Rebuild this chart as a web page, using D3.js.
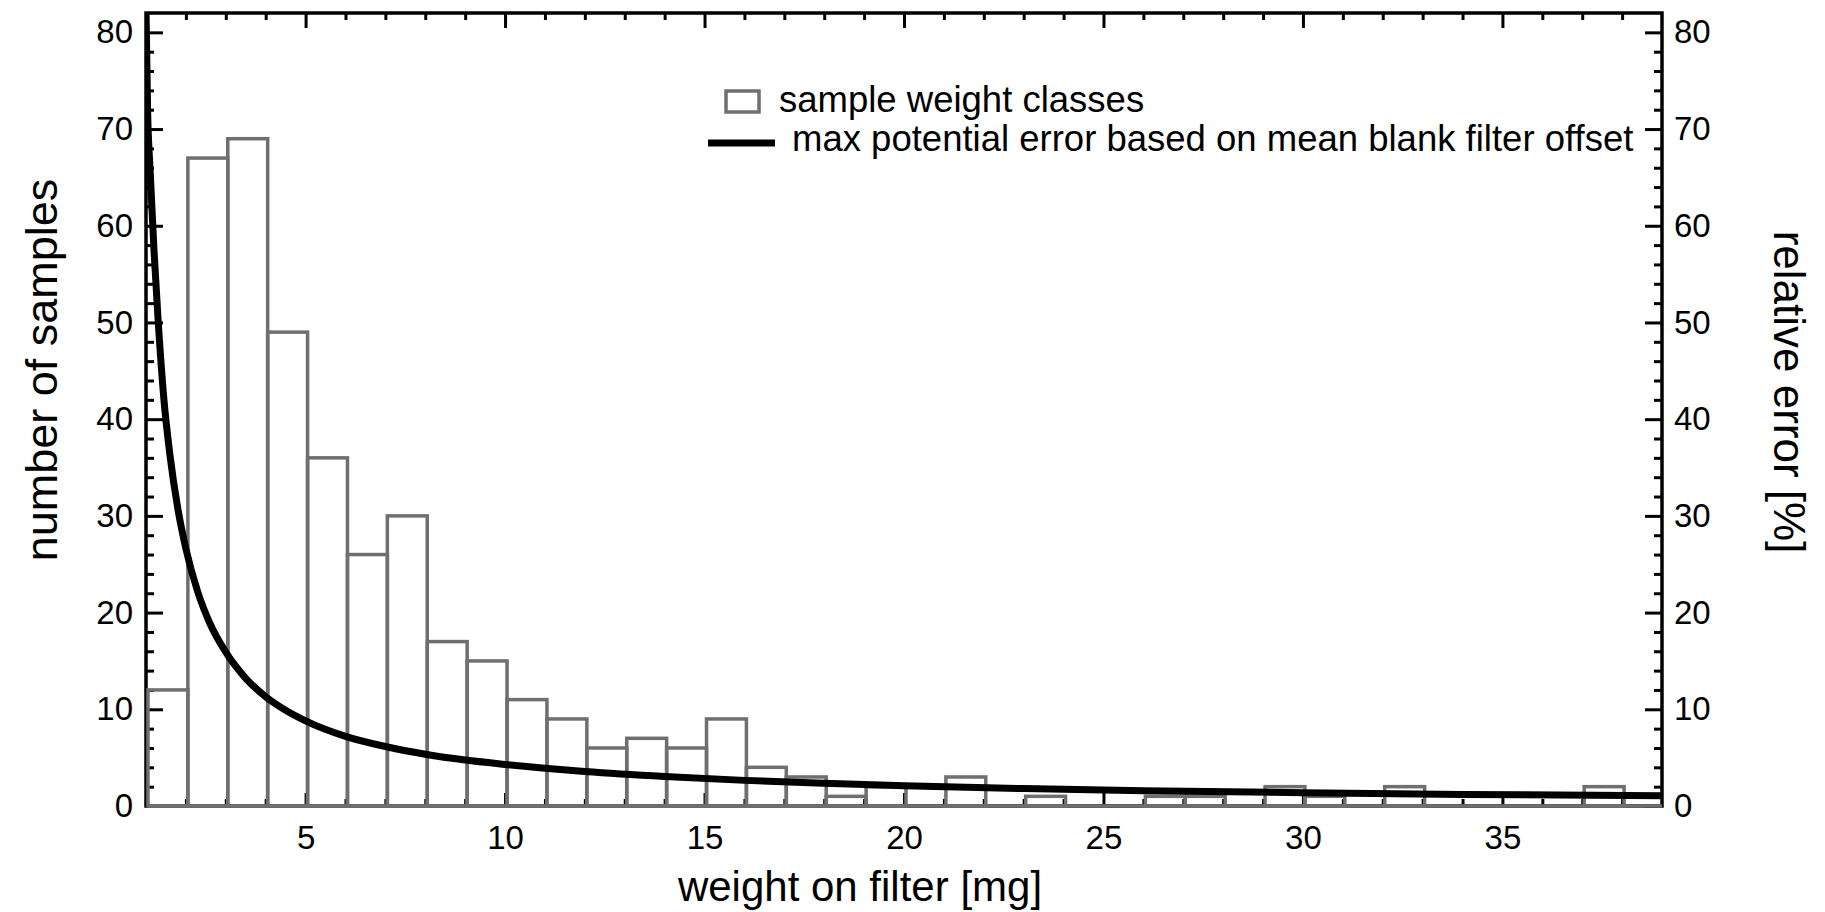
<!DOCTYPE html>
<html>
<head>
<meta charset="utf-8">
<script src="https://cdn.jsdelivr.net/npm/d3@7"></script>
<style>
body{margin:0;background:#fff}
svg{display:block;font-family:"Liberation Sans",Arial,sans-serif}
</style>
</head>
<body>
<svg id="chart" width="1825" height="912"></svg>
<script>
// weight classes: lower edge [mg] and number of samples in each
var binLo=[1.05,2.05,3.05,4.05,5.05,6.05,7.05,8.05,9.05,10.05,11.05,12.05,13.05,14.05,15.05,16.05,17.05,18.05,19.05,
    20.05,21.05,22.05,23.05,24.05,25.05,26.05,27.05,28.05,29.05,30.05,31.05,32.05,33.05,34.05,35.05,36.05,37.05,38.05]
var counts=[12,67,69,49,36,26,30,17,15,11,9,6,7,6,9,4,3,1,2,
    0,3,0,1,0,0,1,1,0,2,1,0,2,0,0,0,0,2,0]

// max potential error curve
var errX=[1.0,1.04,1.1,1.2,1.3,1.45,1.6,1.8,2.0,2.3,2.6,3.0,3.5,4.0,4.5,5.0,6.0,7.0,8.0,9.0,10,11,12,14,16,18,20,23,26,30,34,39]
var errY=[82.5,72,66,57.5,50.5,42,36.3,30.7,26.6,22.1,18.9,15.9,13.2,11.3,9.9,8.8,7.2,6.15,5.35,4.75,4.3,3.9,3.57,3.05,2.65,2.35,2.1,1.8,1.58,1.37,1.2,1.05]

var xTicks=[5,10,15,20,25,30,35]
var yTicks=[0,10,20,30,40,50,60,70,80]

var legendItems=['sample weight classes','max potential error based on mean blank filter offset']
var xTitle='weight on filter [mg]'
var yTitle='number of samples'
var y2Title='relative error [%]'

var conf={width:1825,height:912}
var margin={left:146,right:163,top:13,bottom:106}
var grey='#6f6f6f'

var svg=d3.select('#chart')
var x=d3.scaleLinear().domain([1,39]).range([margin.left,conf.width-margin.right])
var y=d3.scaleLinear().domain([0,82]).range([conf.height-margin.bottom,margin.top])
var y2=d3.scaleLinear().domain([0,82]).range([conf.height-margin.bottom,margin.top])

var xMinor=d3.range(2,39).filter(d=>d%5!=0)
var yMinor=d3.range(2,81,2).filter(d=>d%10!=0)

svg.append('defs').append('clipPath').attr('id','plot-clip')
    .append('rect')
    .attr('x',x.range()[0]).attr('y',y.range()[1])
    .attr('width',x.range()[1]-x.range()[0])
    .attr('height',y.range()[0]-y.range()[1])

var g={
    axes:svg.append('g'),
    bars:svg.append('g'),
    curve:svg.append('g').attr('clip-path','url(#plot-clip)'),
    frame:svg.append('g'),
    legend:svg.append('g'),
    titles:svg.append('g')
}

function styleAxis(sel){
    sel.select('.domain').remove()
    sel.selectAll('.tick line').attr('stroke','#000').attr('stroke-width',3)
    sel.selectAll('.tick text').attr('fill','#000').attr('font-size',33)
}

// bottom
g.axes.append('g').attr('transform',`translate(0,${y.range()[0]})`)
    .call(d3.axisBottom(x).tickValues(xTicks).tickSizeInner(-13).tickSizeOuter(0).tickPadding(20))
    .call(styleAxis)
g.axes.append('g').attr('transform',`translate(0,${y.range()[0]})`)
    .call(d3.axisBottom(x).tickValues(xMinor).tickSizeInner(-7).tickSizeOuter(0).tickFormat(''))
    .call(styleAxis)
// top
g.axes.append('g').attr('transform',`translate(0,${y.range()[1]})`)
    .call(d3.axisTop(x).tickValues(xTicks).tickSizeInner(-15).tickSizeOuter(0).tickFormat(''))
    .call(styleAxis)
g.axes.append('g').attr('transform',`translate(0,${y.range()[1]})`)
    .call(d3.axisTop(x).tickValues(xMinor).tickSizeInner(-7).tickSizeOuter(0).tickFormat(''))
    .call(styleAxis)
// left
g.axes.append('g').attr('transform',`translate(${x.range()[0]},0)`)
    .call(d3.axisLeft(y).tickValues(yTicks).tickSizeInner(-17).tickSizeOuter(0).tickPadding(13))
    .call(styleAxis)
g.axes.append('g').attr('transform',`translate(${x.range()[0]},0)`)
    .call(d3.axisLeft(y).tickValues(yMinor).tickSizeInner(-8).tickSizeOuter(0).tickFormat(''))
    .call(styleAxis)
// right
g.axes.append('g').attr('transform',`translate(${x.range()[1]},0)`)
    .call(d3.axisRight(y2).tickValues(yTicks).tickSizeInner(-17).tickSizeOuter(0).tickPadding(12))
    .call(styleAxis)
g.axes.append('g').attr('transform',`translate(${x.range()[1]},0)`)
    .call(d3.axisRight(y2).tickValues(yMinor).tickSizeInner(-8).tickSizeOuter(0).tickFormat(''))
    .call(styleAxis)

g.frame.append('rect')
    .attr('x',x.range()[0]).attr('y',y.range()[1])
    .attr('width',x.range()[1]-x.range()[0])
    .attr('height',y.range()[0]-y.range()[1])
    .attr('fill','none').attr('stroke','#000').attr('stroke-width',3.5)
g.frame.lower()
g.axes.lower()

// histogram
var xMax=x.domain()[1]
g.bars.selectAll('rect')
    .data(counts)
    .join('rect')
    .attr('x',(d,i)=>x(binLo[i]))
    .attr('width',(d,i)=>x(i<binLo.length-1?binLo[i+1]:xMax)-x(binLo[i]))
    .attr('y',d=>y(d))
    .attr('height',d=>y(0)-y(d))
    .attr('fill','none')
    .attr('stroke',grey)
    .attr('stroke-width',3.5)
g.bars.append('line')
    .attr('x1',x(binLo[0])).attr('x2',x(xMax))
    .attr('y1',y(0)).attr('y2',y(0))
    .attr('stroke',grey).attr('stroke-width',3.5)

// error curve
var lineGen=d3.line().x(d=>x(d[0])).y(d=>y2(d[1])).curve(d3.curveMonotoneX)
g.curve.append('path')
    .attr('d',lineGen(d3.zip(errX,errY)))
    .attr('fill','none')
    .attr('stroke','#000')
    .attr('stroke-width',7)

// legend
g.legend.append('rect')
    .attr('x',726).attr('y',91).attr('width',33).attr('height',21)
    .attr('fill','none').attr('stroke',grey).attr('stroke-width',3.5)
g.legend.append('text')
    .attr('x',779).attr('y',112).attr('font-size',36.5)
    .text(legendItems[0])
g.legend.append('line')
    .attr('x1',708).attr('x2',775).attr('y1',143).attr('y2',143)
    .attr('stroke','#000').attr('stroke-width',7)
g.legend.append('text')
    .attr('x',792).attr('y',151).attr('font-size',36.5)
    .text(legendItems[1])

// axis titles
g.titles.append('text')
    .attr('x',860).attr('y',901)
    .attr('text-anchor','middle').attr('font-size',42)
    .text(xTitle)
g.titles.append('text')
    .attr('transform','translate(57,370) rotate(-90)')
    .attr('text-anchor','middle').attr('font-size',45)
    .text(yTitle)
g.titles.append('text')
    .attr('transform','translate(1774,392) rotate(90)')
    .attr('text-anchor','middle').attr('font-size',44)
    .text(y2Title)
</script>
</body>
</html>
